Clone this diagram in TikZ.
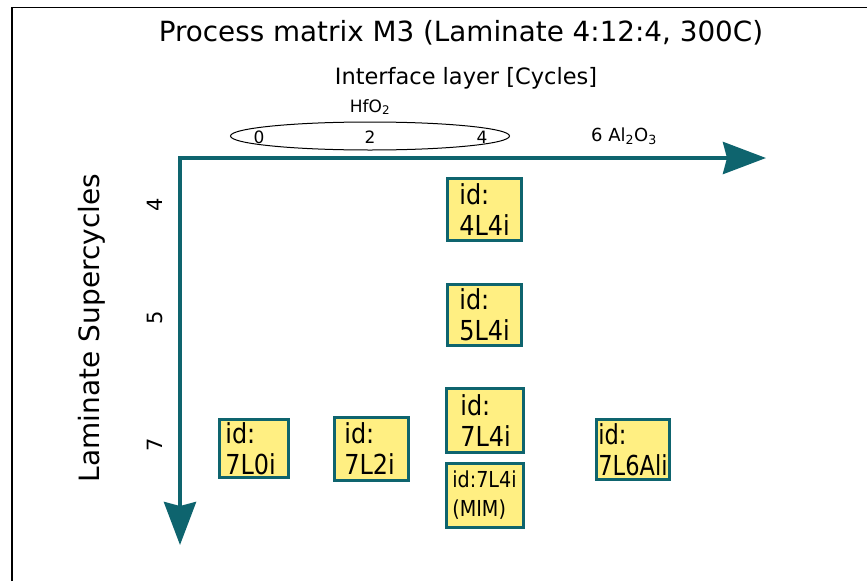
\documentclass[tikz,border=0pt]{standalone}
\usepackage{fontspec}
\setmainfont{DejaVu Sans}
\newfontfamily\boxfont{DejaVu Sans}[FakeStretch=0.87]
\newfontfamily\boxfontn{DejaVu Sans}[FakeStretch=0.82]
\usetikzlibrary{arrows.meta,shapes.geometric}
\definecolor{tealc}{RGB}{14,100,110}
\definecolor{boxy}{RGB}{255,239,130}
\tikzset{
  axis/.style={draw=tealc, line width=4pt, line join=miter,
    {Stealth[length=43pt,width=32pt,inset=4pt]}-{Stealth[length=43pt,width=32pt,inset=4pt]}},
  idbox/.style={draw=tealc, fill=boxy, line width=2.7pt, anchor=north west,
    align=left, inner ysep=0pt, font=\boxfont\fontsize{27.5}{31}\selectfont},
  lab/.style={font=\fontsize{#1}{#1}\selectfont, inner sep=0pt},
}
\begin{document}
\begin{tikzpicture}[x=1pt,y=-1pt]
\useasboundingbox (0,0) rectangle (867,581);
\draw[line width=1.2pt] (12,581) -- (12,7.5) -- (867,7.5);

\node[lab=27.8] (title) at (461,33) {Process matrix M3 (Laminate 4:12:4, 300C)};
\node[lab=22.5] (iface) at (466,78) {Interface layer [Cycles]};
\node[lab=17] (hfo) at (370,107) {HfO\textsubscript{2}};
\node[draw, ellipse, line width=1pt, minimum width=279pt, minimum height=28pt, inner sep=0pt] (ell) at (370,136) {};
\node[lab=17] (c0) at (259,137) {0};
\node[lab=17] (c2) at (370,137) {2};
\node[lab=17] (c4) at (482,137) {4};
\node[lab=18] (c6) at (624,136) {6 Al\textsubscript{2}O\textsubscript{3}};

\coordinate (origin) at (180,158);
\coordinate (xend) at (766,158);
\coordinate (yend) at (180,545);
\draw[axis] (xend) -- (origin) -- (yend);

\node[lab=28, rotate=90] (lam) at (92,328) {Laminate Supercycles};
\node[lab=21, rotate=90] (r4) at (155,205) {4};
\node[lab=21, rotate=90] (r5) at (155,318) {5};
\node[lab=21, rotate=90] (r7) at (155,445) {7};

\node[idbox, inner xsep=12pt, text width=50pt, minimum height=62pt] (b4) at (446,177) {id:\\4L4i};
\node[idbox, inner xsep=12pt, text width=50pt, minimum height=61pt] (b5) at (446,283) {id:\\5L4i};
\node[idbox, inner xsep=14pt, text width=49pt, minimum height=64pt] (b7) at (445,387) {id:\\7L4i};
\node[idbox, inner xsep=6pt, text width=65pt, minimum height=64pt, font=\boxfont\fontsize{22}{29}\selectfont] (bmim) at (445,462) {id:7L4i\\(MIM)};
\node[idbox, inner xsep=6pt, text width=57pt, minimum height=58pt] (b0) at (218,418) {id:\\7L0i};
\node[idbox, inner xsep=10pt, text width=54pt, minimum height=63pt] (b2) at (333,416) {id:\\7L2i};
\node[idbox, inner xsep=2pt, text width=69pt, minimum height=60pt, font=\boxfontn\fontsize{27.5}{31}\selectfont] (b6) at (595,418) {id:\\7L6Ali};
\end{tikzpicture}
\end{document}
